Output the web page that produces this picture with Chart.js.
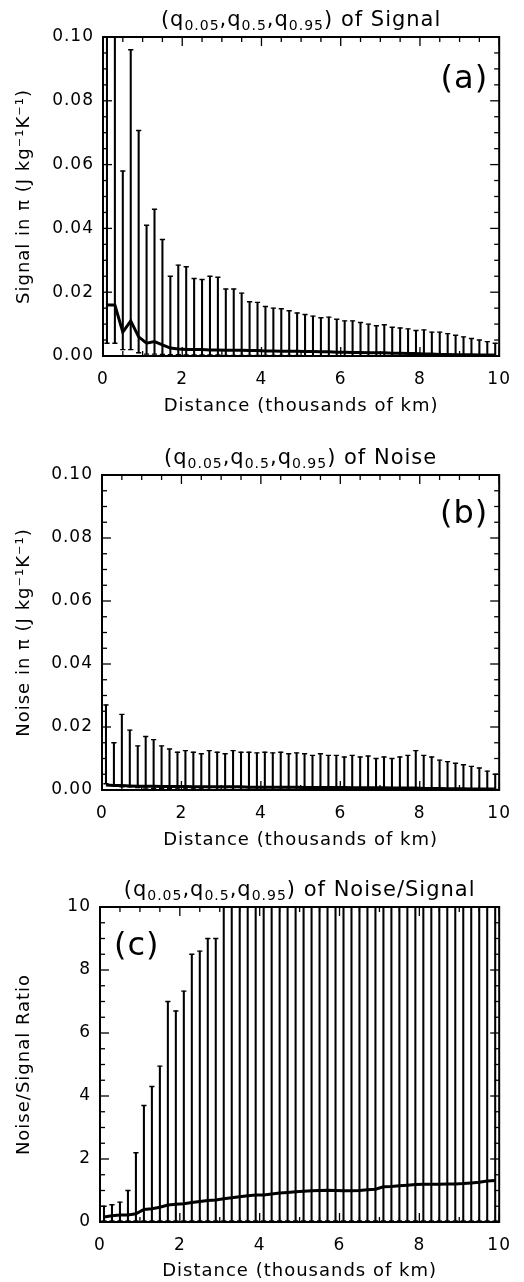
<!DOCTYPE html>
<html><head><meta charset="utf-8">
<script src="https://cdn.jsdelivr.net/npm/chart.js@4.4.1/dist/chart.umd.min.js"></script>
<style>
html,body{margin:0;padding:0;background:#fff;}
#wrap{position:relative;width:524px;height:1282px;overflow:hidden;background:#fff;}
canvas{position:absolute;left:0;}
</style></head><body>
<div id="wrap">
<canvas id="ca" width="524" height="440" style="top:0px"></canvas>
<canvas id="cb" width="524" height="420" style="top:440px"></canvas>
<canvas id="cc" width="524" height="422" style="top:860px"></canvas>
</div>
<script>
// ---------------- DATA ----------------
const distance = [0.1,0.3,0.5,0.7,0.9,1.1,1.3,1.5,1.7,1.9,2.1,2.3,2.5,2.7,2.9,3.1,3.3,3.5,3.7,3.9,
  4.1,4.3,4.5,4.7,4.9,5.1,5.3,5.5,5.7,5.9,6.1,6.3,6.5,6.7,6.9,7.1,7.3,7.5,7.7,7.9,
  8.1,8.3,8.5,8.7,8.9,9.1,9.3,9.5,9.7,9.9];

const signalQ95 = [0.13,0.12,0.058,0.096,0.0707,0.041,0.046,0.0365,0.025,0.0285,
  0.028,0.0243,0.024,0.025,0.0247,0.021,0.021,0.0197,0.017,0.0168,
  0.0155,0.015,0.0148,0.0142,0.0135,0.013,0.0125,0.012,0.0122,0.0115,
  0.011,0.011,0.0105,0.010,0.0095,0.0098,0.009,0.0088,0.0085,0.008,
  0.0082,0.0075,0.0075,0.007,0.0065,0.006,0.0055,0.005,0.0045,0.004];
const signalQ05 = [0.004,0.004,0.002,0.002,0.001,0.0006,0.0006,0.0005,0.0004,0.0004,
  0.0003,0.0003,0.0003,0.0003,0.0003,0.0002,0.0002,0.0002,0.0002,0.0002,
  0.0002,0.0002,0.0002,0.0002,0.0002,0.0001,0.0001,0.0001,0.0001,0.0001,
  0.0001,0.0001,0.0001,0.0001,0.0001,0.0001,0.0001,0.0001,0.0001,0.0001,
  0.0001,0.0001,0.0001,0.0001,0.0001,0.0001,0.0001,0.0001,0.0001,0.0001];
const signalQ50 = [0.016,0.016,0.0075,0.011,0.006,0.004,0.0045,0.0035,0.0025,0.0022,
  0.002,0.002,0.002,0.0019,0.0019,0.0018,0.0018,0.0018,0.0017,0.0017,
  0.0016,0.0016,0.0015,0.0015,0.0015,0.0014,0.0014,0.0013,0.0013,0.0012,
  0.0012,0.0011,0.0011,0.001,0.001,0.001,0.0009,0.0009,0.0008,0.0008,
  0.0006,0.0006,0.0005,0.0005,0.0004,0.0004,0.0004,0.0003,0.0003,0.0003];

const noiseQ95 = [0.027,0.015,0.024,0.019,0.014,0.017,0.016,0.014,0.013,0.012,
  0.0125,0.012,0.0115,0.0125,0.012,0.0115,0.0125,0.012,0.012,0.0118,
  0.012,0.0118,0.012,0.0115,0.0118,0.0115,0.011,0.0115,0.011,0.011,
  0.0105,0.011,0.0105,0.0108,0.010,0.0105,0.010,0.0105,0.011,0.0125,
  0.011,0.0105,0.0095,0.009,0.0085,0.008,0.0075,0.007,0.006,0.005];
const noiseQ05 = [0.002,0.0015,0.001,0.001,0.0008,0.0006,0.0005,0.0004,0.0004,0.0003,
  0.0003,0.0003,0.0003,0.0002,0.0002,0.0002,0.0002,0.0002,0.0002,0.0002,
  0.0002,0.0002,0.0002,0.0002,0.0002,0.0002,0.0002,0.0002,0.0002,0.0002,
  0.0002,0.0002,0.0002,0.0002,0.0002,0.0002,0.0002,0.0002,0.0002,0.0002,
  0.0002,0.0002,0.0002,0.0002,0.0002,0.0002,0.0002,0.0002,0.0002,0.0002];
const noiseQ50 = [0.0016,0.0014,0.0014,0.0013,0.0012,0.0012,0.0012,0.0011,0.0011,0.0011,
  0.0011,0.001,0.001,0.001,0.001,0.001,0.001,0.001,0.0009,0.0009,
  0.0009,0.0009,0.0009,0.0009,0.0009,0.0008,0.0008,0.0008,0.0008,0.0008,
  0.0008,0.0007,0.0007,0.0007,0.0007,0.0007,0.0006,0.0006,0.0006,0.0006,
  0.0005,0.0005,0.0005,0.0004,0.0004,0.0004,0.0003,0.0003,0.0003,0.0003];

const ratioQ95 = [0.5,0.55,0.63,1.0,2.2,3.7,4.3,4.95,7.0,6.7,
  7.33,8.5,8.6,9.0,9.0,12,12,12,12,12,
  12,12,12,12,12,12,12,12,12,12,
  12,12,12,12,12,12,12,12,12,12,
  12,12,12,12,12,12,12,12,12,12];
const ratioQ05 = [0.03,0.03,0.03,0.03,0.03,0.03,0.03,0.03,0.03,0.03,
  0.03,0.03,0.03,0.03,0.03,0.03,0.03,0.03,0.03,0.03,
  0.03,0.03,0.03,0.03,0.03,0.03,0.03,0.03,0.03,0.03,
  0.03,0.03,0.03,0.03,0.03,0.03,0.03,0.03,0.03,0.03,
  0.03,0.03,0.03,0.03,0.03,0.03,0.03,0.03,0.03,0.03];
const ratioQ50 = [0.16,0.2,0.22,0.22,0.26,0.4,0.42,0.47,0.54,0.56,
  0.58,0.62,0.65,0.68,0.7,0.74,0.77,0.8,0.83,0.86,
  0.86,0.89,0.92,0.94,0.96,0.98,0.99,1.0,1.01,1.0,
  0.99,0.99,1.0,1.02,1.04,1.12,1.13,1.15,1.17,1.19,
  1.2,1.2,1.2,1.21,1.21,1.22,1.24,1.26,1.3,1.32];

const xTickLabels = ['0','2','4','6','8','10'];
const yTickLabelsAB = ['0.00','0.02','0.04','0.06','0.08','0.10'];
const yTickLabelsC = ['0','2','4','6','8','10'];

// ---------------- PLUGINS ----------------
const FONT = "'DejaVu Sans', sans-serif";

const spacingPlugin = {
  id: 'spacing',
  beforeLayout(chart){ chart.ctx.letterSpacing = '1px'; },
  beforeDraw(chart){ chart.ctx.letterSpacing = '1px'; }
};

const framePlugin = {
  id: 'frame',
  afterDatasetsDraw(chart, args, opts){
    const {ctx, chartArea: a} = chart;
    const x = chart.scales.x, y = chart.scales.y;
    ctx.save();
    ctx.strokeStyle = '#000';
    ctx.lineWidth = 1.3;
    const seg = (x1,y1,x2,y2)=>{ctx.beginPath();ctx.moveTo(x1,y1);ctx.lineTo(x2,y2);ctx.stroke();};
    const xStep = opts.xStep, yStep = opts.yStep;
    for (let i = 0; i <= Math.round((x.max - x.min)/(xStep/4)); i++) {
      const v = x.min + i*xStep/4;
      const p = x.getPixelForValue(v);
      const L = (i % 4 === 0) ? 9 : 5;
      seg(p, a.bottom, p, a.bottom - L);
      seg(p, a.top, p, a.top + L);
    }
    for (let i = 0; i <= Math.round((y.max - y.min)/(yStep/4)); i++) {
      const v = y.min + i*yStep/4;
      const p = y.getPixelForValue(v);
      const L = (i % 4 === 0) ? 9 : 5;
      seg(a.left, p, a.left + L, p);
      seg(a.right, p, a.right - L, p);
    }
    ctx.lineWidth = 2;
    ctx.strokeRect(a.left, a.top, a.right - a.left, a.bottom - a.top);
    ctx.restore();
  }
};

const textPlugin = {
  id: 'texts',
  afterDraw(chart, args, opts){
    const {ctx, chartArea: a} = chart;
    ctx.save();
    ctx.fillStyle = '#000';
    ctx.letterSpacing = '1px';
    ctx.textBaseline = 'alphabetic';
    // title with subscripts
    const parts = opts.title;
    const main = "21px " + FONT, sub = "14px " + FONT;
    let w = 0;
    parts.forEach(p => { ctx.font = p.s ? sub : main; w += ctx.measureText(p.t).width; });
    let xx = (a.left + a.right)/2 - w/2;
    const base = a.top - 11;
    parts.forEach(p => {
      ctx.font = p.s ? sub : main;
      ctx.fillText(p.t, xx, base + (p.s ? 4 : 0));
      xx += ctx.measureText(p.t).width;
    });
    // panel label
    ctx.font = "32px " + FONT;
    ctx.textBaseline = 'middle';
    ctx.textAlign = opts.labelAlign;
    const lx = opts.labelAlign === 'right' ? a.right + opts.labelDx : a.left + opts.labelDx;
    ctx.fillText(opts.label, lx, a.top + opts.labelDy);
    ctx.restore();
  }
};

// ---------------- CHART BUILDER ----------------
function makeChart(id, cfg){
  const bars = distance.map((d,i)=>({x:d, y:[cfg.lo[i], cfg.hi[i]]}));
  const capsHi = distance.map((d,i)=>({x:d, y:cfg.hi[i]}));
  const capsLo = distance.map((d,i)=>({x:d, y:cfg.lo[i]}));
  const med = distance.map((d,i)=>({x:d, y:cfg.med[i]}));
  return new Chart(document.getElementById(id), {
    type: 'line',
    data: { datasets: [
      {type:'bar', data: bars, backgroundColor:'#000', borderWidth:0, barThickness:1.4, grouped:false, order:3},
      {type:'scatter', data: capsHi, pointStyle:'line', pointRadius:2.6, borderColor:'#000', borderWidth:1.4, backgroundColor:'#000', order:2},
      {type:'scatter', data: capsLo, pointStyle:'line', pointRadius:2.6, borderColor:'#000', borderWidth:1.4, backgroundColor:'#000', order:2},
      {type:'line', data: med, borderColor:'#000', borderWidth:3, pointRadius:0, tension:0, order:1}
    ]},
    options: {
      responsive:false, animation:false, events:[],
      layout:{padding:{left:0, right:cfg.padRight, top:cfg.padTop, bottom:0}},
      plugins:{legend:{display:false}, tooltip:{enabled:false},
        frame:{xStep:2, yStep:cfg.yStep},
        texts:{title:cfg.title, label:cfg.label, labelAlign:cfg.labelAlign, labelDx:cfg.labelDx, labelDy:cfg.labelDy}},
      scales:{
        x:{type:'linear', min:0, max:10, offset:false,
          grid:{display:false, drawTicks:false}, border:{display:false},
          ticks:{stepSize:2, padding:13, color:'#000', font:{family:FONT, size:17},
            callback:(v)=>{const k = Math.round(v/2); return (Math.abs(v-2*k)<1e-9 && xTickLabels[k]!==undefined)? xTickLabels[k] : '';}},
          title:{display:true, text:'Distance (thousands of km)', color:'#000', font:{family:FONT, size:18}, padding:{top:0,bottom:cfg.xTitlePad}},
          afterFit:(s)=>{ s.height = cfg.xHeight; }
        },
        y:{type:'linear', min:0, max:cfg.yMax, 
          grid:{display:false, drawTicks:false}, border:{display:false},
          ticks:{stepSize:cfg.yStep, padding:9, color:'#000', font:{family:FONT, size:17},
            callback:(v)=>{const k = Math.round(v/cfg.yStep); return (Math.abs(v-cfg.yStep*k)<1e-9 && cfg.yLabels[k]!==undefined)? cfg.yLabels[k] : '';}},
          title:{display:true, text:cfg.yTitle, color:'#000', font:{family:FONT, size:18}, padding:{top:14,bottom:0}},
          afterFit:(s)=>{ s.width = cfg.yWidth; }
        }
      }
    },
    plugins:[spacingPlugin, framePlugin, textPlugin]
  });
}

makeChart('ca', {
  hi:signalQ95, lo:signalQ05, med:signalQ50, yMax:0.1, yStep:0.02, yLabels:yTickLabelsAB,
  yTitle:'Signal in \u03C0 (J kg\u207B\u00B9K\u207B\u00B9)',
  title:[{t:'(q'},{t:'0.05',s:1},{t:',q'},{t:'0.5',s:1},{t:',q'},{t:'0.95',s:1},{t:') of Signal'}],
  label:'(a)', labelAlign:'right', labelDx:-11, labelDy:43,
  padTop:37, padRight:20, xHeight:84, yWidth:103, xTitlePad:23
});
makeChart('cb', {
  hi:noiseQ95, lo:noiseQ05, med:noiseQ50, yMax:0.1, yStep:0.02, yLabels:yTickLabelsAB,
  yTitle:'Noise in \u03C0 (J kg\u207B\u00B9K\u207B\u00B9)',
  title:[{t:'(q'},{t:'0.05',s:1},{t:',q'},{t:'0.5',s:1},{t:',q'},{t:'0.95',s:1},{t:') of Noise'}],
  label:'(b)', labelAlign:'right', labelDx:-11, labelDy:40,
  padTop:35, padRight:21, xHeight:70, yWidth:102, xTitlePad:9
});
makeChart('cc', {
  hi:ratioQ95, lo:ratioQ05, med:ratioQ50, yMax:10, yStep:2, yLabels:yTickLabelsC,
  yTitle:'Noise/Signal Ratio',
  title:[{t:'(q'},{t:'0.05',s:1},{t:',q'},{t:'0.5',s:1},{t:',q'},{t:'0.95',s:1},{t:') of Noise/Signal'}],
  label:'(c)', labelAlign:'left', labelDx:14, labelDy:40,
  padTop:47, padRight:23, xHeight:60, yWidth:100, xTitlePad:0
});
</script>
</body></html>
